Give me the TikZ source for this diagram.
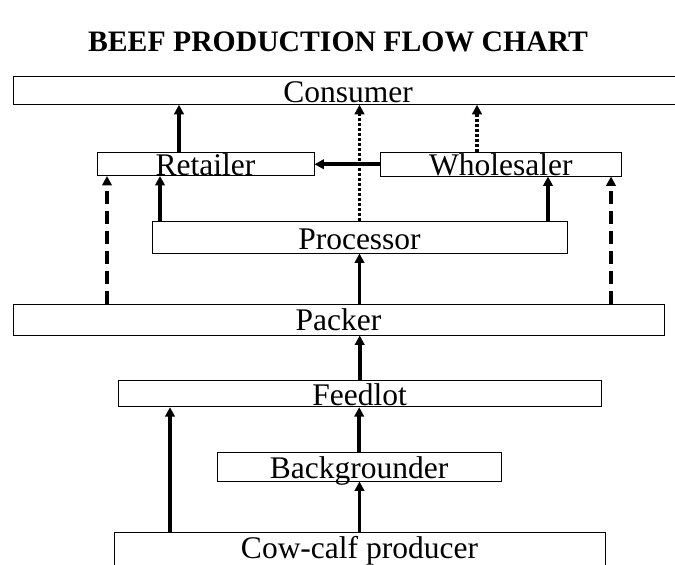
\documentclass[tikz,border=0pt]{standalone}
\usepackage{fontspec}
\setmainfont{Liberation Serif}
\usetikzlibrary{arrows.meta}
\begin{document}
\begin{tikzpicture}[x=1pt,y=-1pt,
  box/.style={draw, line width=0.9pt, rectangle, inner xsep=0pt, inner ysep=0pt,
    minimum height=0pt, font=\fontsize{31.5}{31.5}\selectfont},
  arr/.style={line width=3.6pt, -{Triangle[length=9.5pt,width=9.5pt]}},
  dotarr/.style={arr, dash pattern=on 3pt off 2pt},
  dasharr/.style={arr, dash pattern=on 13pt off 7pt}]
\useasboundingbox (0,0) rectangle (675,565);
\node[font=\bfseries\fontsize{29.7}{30}\selectfont, anchor=base] (title) at (338,51) {BEEF PRODUCTION FLOW CHART};
\node[box, minimum width=670pt, text height=26pt, text depth=2.3pt] (cons) at (348,90.15) {Consumer};
\node[box, minimum width=217pt, text height=22.5pt, text depth=0.5pt] (ret) at (205.5,164) {Retailer};
\node[box, minimum width=241.5pt, text height=22.7pt, text depth=0.8pt] (whol) at (500.75,164.25) {Wholesaler};
\node[box, minimum width=415pt, text height=28.5pt, text depth=3.5pt] (proc) at (359.5,237) {Processor};
\node[box, minimum width=651pt, text height=26.5pt, text depth=4.5pt] (pack) at (338.5,319.5) {Packer};
\node[box, minimum width=482.7pt, text height=25pt, text depth=1pt] (feed) at (359.7,393.7) {Feedlot};
\node[box, minimum width=283.7pt, text height=25.3pt, text depth=3pt] (back) at (359.2,466.85) {Backgrounder};
\node[box, minimum width=491pt, text height=25.7pt, text depth=12pt] (cow) at (359.5,551.15) {Cow-calf producer};
\coordinate (a1) at ([xshift=-26.5pt]ret.north);
\coordinate (a3) at ([xshift=-23.75pt]whol.north);
\coordinate (a5) at ([xshift=-199.5pt]proc.north);
\coordinate (a6) at ([xshift=188.5pt]proc.north);
\coordinate (a7) at ([xshift=-231.5pt]pack.north);
\coordinate (a8) at ([xshift=272.5pt]pack.north);
\coordinate (a13) at ([xshift=-189.5pt]cow.north);
\draw[arr] (a1) -- (a1 |- cons.south);
\draw[dotarr] (proc.north) -- (proc.north |- cons.south);
\draw[dotarr] (a3) -- (a3 |- cons.south);
\draw[arr] (whol.west) -- (whol.west -| ret.east);
\draw[arr] (a5) -- (a5 |- ret.south);
\draw[arr] (a6) -- (a6 |- whol.south);
\draw[dasharr] (a7) -- (a7 |- ret.south);
\draw[dasharr] (a8) -- (a8 |- whol.south);
\draw[arr] (proc.south |- pack.north) -- (proc.south);
\draw[arr] (feed.north) -- (feed.north |- pack.south);
\draw[arr] (back.north) -- (back.north |- feed.south);
\draw[arr] (cow.north) -- (cow.north |- back.south);
\draw[arr] (a13) -- (a13 |- feed.south);
\end{tikzpicture}
\end{document}
